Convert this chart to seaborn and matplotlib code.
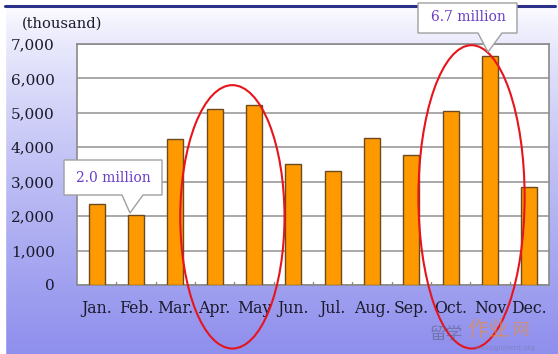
import numpy as np
import pandas as pd
import matplotlib
matplotlib.use("Agg")
import matplotlib.pyplot as plt
from matplotlib.patches import Ellipse, Polygon
import seaborn as sns

months = ["Jan.", "Feb.", "Mar.", "Apr.", "May", "Jun.", "Jul.", "Aug.", "Sep.", "Oct.", "Nov", "Dec."]
visitors = [2350, 2020, 4230, 5100, 5220, 3520, 3320, 4260, 3790, 5060, 6640, 2860]
yticks = [0, 1000, 2000, 3000, 4000, 5000, 6000, 7000]
ytick_labels = ["0", "1,000", "2,000", "3,000", "4,000", "5,000", "6,000", "7,000"]
callout_feb = "2.0 million"
callout_nov = "6.7 million"
unit_label = "(thousand)"

df = pd.DataFrame({"month": months, "visitors": visitors})

sns.set_theme(style="white")
plt.rcParams["font.family"] = ["DejaVu Serif"]

W, H = 558, 354
fig = plt.figure(figsize=(W / 100, H / 100), dpi=100)

# gradient background
bg = fig.add_axes([0, 0, 1, 1], zorder=0)
bg.set_axis_off()
n = 256
t = np.linspace(0, 1, n)[:, None]
top = np.array([0.98, 0.98, 1.0])
bot = np.array([0.56, 0.56, 0.93])
w = np.clip((t - 0.03) / 0.97, 0, 1) ** 0.8
grad = top * (1 - w) + bot * w
img = np.repeat(grad[:, None, :], 2, axis=1).reshape(n, 2, 3)
bg.imshow(img, aspect="auto", extent=[0, 1, 0, 1], transform=bg.transAxes)
bg.set_xlim(0, 1); bg.set_ylim(0, 1)
bg.add_patch(plt.Rectangle((0, 0), 5 / W, 1, color="white", transform=bg.transAxes))
bg.add_patch(plt.Rectangle((0, 1 - 6 / H), 1, 6 / H, color="white", transform=bg.transAxes))
bg.plot([5 / W, 1 - 3 / W], [1 - 6 / H, 1 - 6 / H], color="#2a2f8a", lw=2.2, transform=bg.transAxes)

# main axes: x 77..549, y 44..285
ax = fig.add_axes([77 / W, 1 - 285 / H, (549 - 77) / W, (285 - 44) / H], zorder=1)
ax.set_facecolor("white")
sns.barplot(data=df, x="month", y="visitors", color="#ff9900", width=0.41,
            edgecolor="#6b4a22", linewidth=1.0, saturation=1, ax=ax, zorder=3)
ax.set_ylim(0, 7000)
ax.set_xlim(-0.5, len(months) - 0.5)
ax.set_yticks(yticks)
ax.set_yticklabels(ytick_labels, fontsize=11, color="#1a1a2a")
ax.tick_params(axis="y", length=0, pad=16)
ax.tick_params(axis="x", length=0, pad=11, labelsize=11.3, labelcolor="#1a1a2a")
ax.set_xlabel("")
ax.set_ylabel("")
ax.yaxis.grid(True, color="#999999", lw=1.2, zorder=1)
ax.set_axisbelow(True)
for s in ax.spines.values():
    s.set_color("#8a8a8a")
    s.set_linewidth(1.2)
for b in np.arange(0.5, len(months) - 1, 1.0):
    ax.plot([b, b], [0, 90], color="#8a8a8a", lw=1, zorder=2, clip_on=False)

fig.text(22 / W, 1 - 24 / H, unit_label, fontsize=10.5, color="#1a1a2a", va="center", ha="left")

ax.add_patch(Ellipse((3.45, 1980), 2.65, 7650, fill=False, edgecolor="#e8141c", lw=1.5,
                     clip_on=False, zorder=6))
ax.add_patch(Ellipse((9.53, 2560), 2.7, 8810, fill=False, edgecolor="#e8141c", lw=1.5,
                     clip_on=False, zorder=6))

def px(x, y):
    return (x / W, 1 - y / H)

def callout(box, tip, base, text, tx, ty):
    x0, y0, x1, y1 = box
    bl, br = base
    pts = [px(x0, y0), px(x1, y0), px(x1, y1), px(br, y1), px(*tip), px(bl, y1), px(x0, y1)]
    poly = Polygon(pts, closed=True, facecolor="white", edgecolor="#a0a0a0", lw=1.0,
                   transform=fig.transFigure, zorder=10)
    fig.add_artist(poly)
    fig.text(tx / W, 1 - ty / H, text, fontsize=10, color="#6a3fc8", ha="center", va="center",
             zorder=11)

callout((64, 160, 162, 195), (130, 213), (122, 143), callout_feb, 113, 178)
callout((418, 3, 517, 33), (488, 52), (478, 502), callout_nov, 468, 17)

fig.text(430 / W, 1 - 334 / H, "留学", fontsize=12, color="#5a5a80", alpha=0.55,
         family=["Noto Sans CJK SC"], ha="left", va="center", zorder=12)
fig.text(467 / W, 1 - 330 / H, "作业", fontsize=15, color="#f08a30", alpha=0.6,
         family=["Noto Sans CJK SC"], ha="left", va="center", zorder=12)
fig.text(513 / W, 1 - 330 / H, "网", fontsize=12, color="#f08a30", alpha=0.6,
         family=["Noto Sans CJK SC"], ha="left", va="center", zorder=12)
fig.text(472 / W, 1 - 348 / H, "ukassignment.org", fontsize=5, color="#7a7ab0", alpha=0.6,
         family=["DejaVu Sans"], ha="left", va="center", zorder=12)

fig.savefig("out.png", dpi=100)
